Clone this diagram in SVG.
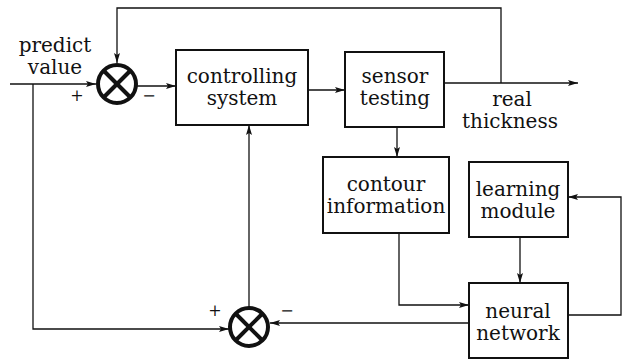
<svg xmlns="http://www.w3.org/2000/svg" width="632" height="360" viewBox="0 0 632 360">
<defs>
<marker id="arr" viewBox="0 0 10 6" refX="10" refY="3" markerWidth="10" markerHeight="6" markerUnits="userSpaceOnUse" orient="auto">
<path d="M0,0 L10,3 L0,6 L2,3 Z" fill="#111"/>
</marker>
</defs>
<style>
.box{fill:#fff;stroke:#111;stroke-width:2}
.t{font-family:"DejaVu Serif","Liberation Serif",serif;font-size:20px;fill:#111;text-anchor:middle}
.s{font-family:"DejaVu Serif","Liberation Serif",serif;font-size:16px;fill:#111;text-anchor:middle}
.c{fill:none;stroke:#111;stroke-width:1.3}
.sum{fill:#fff;stroke:#111;stroke-width:4}
.x{stroke:#111;stroke-width:4}
</style>
<g id="connectors">
<path class="c" d="M10,84 H96" marker-end="url(#arr)"/>
<path class="c" d="M33,84 V329 H229" marker-end="url(#arr)"/>
<path class="c" d="M137,86 H176" marker-end="url(#arr)"/>
<path class="c" d="M308,90 H345" marker-end="url(#arr)"/>
<path class="c" d="M444,83 H578" marker-end="url(#arr)"/>
<path class="c" d="M501,83 V8 H117 V63" marker-end="url(#arr)"/>
<path class="c" d="M397,127 V157" marker-end="url(#arr)"/>
<path class="c" d="M399,233 V305 H469" marker-end="url(#arr)"/>
<path class="c" d="M520,237 V283" marker-end="url(#arr)"/>
<path class="c" d="M568,315 H621 V197 H568" marker-end="url(#arr)"/>
<path class="c" d="M469,323 H270" marker-end="url(#arr)"/>
<path class="c" d="M249,307 V125" marker-end="url(#arr)"/>
</g>
<g id="label-input">
<text class="t" x="55" y="52">predict</text>
<text class="t" x="55" y="74">value</text>
</g>
<g id="sum1">
<circle class="sum" cx="117" cy="84" r="19"/>
<line class="x" x1="104" y1="71" x2="130" y2="97"/>
<line class="x" x1="130" y1="71" x2="104" y2="97"/>
<text class="s" x="77" y="101">+</text>
<text class="s" x="149" y="101">−</text>
</g>
<g id="controlling">
<rect class="box" x="176" y="50" width="132" height="75"/>
<text class="t" x="242" y="83">controlling</text>
<text class="t" x="242" y="105">system</text>
</g>
<g id="sensor">
<rect class="box" x="345" y="52" width="99" height="75"/>
<text class="t" x="395" y="83">sensor</text>
<text class="t" x="395" y="105">testing</text>
</g>
<g id="label-output">
<text class="t" x="512" y="106">real</text>
<text class="t" x="510" y="128">thickness</text>
</g>
<g id="contour">
<rect class="box" x="323" y="157" width="126" height="76"/>
<text class="t" x="386" y="191">contour</text>
<text class="t" x="386" y="213">information</text>
</g>
<g id="learning">
<rect class="box" x="469" y="162" width="99" height="75"/>
<text class="t" x="518" y="196">learning</text>
<text class="t" x="518" y="218">module</text>
</g>
<g id="neural">
<rect class="box" x="469" y="283" width="99" height="75"/>
<text class="t" x="518" y="318">neural</text>
<text class="t" x="518" y="340">network</text>
</g>
<g id="sum2">
<circle class="sum" cx="249" cy="327" r="19"/>
<line class="x" x1="236" y1="314" x2="262" y2="340"/>
<line class="x" x1="262" y1="314" x2="236" y2="340"/>
<text class="s" x="215" y="316">+</text>
<text class="s" x="287" y="316">−</text>
</g>
</svg>
